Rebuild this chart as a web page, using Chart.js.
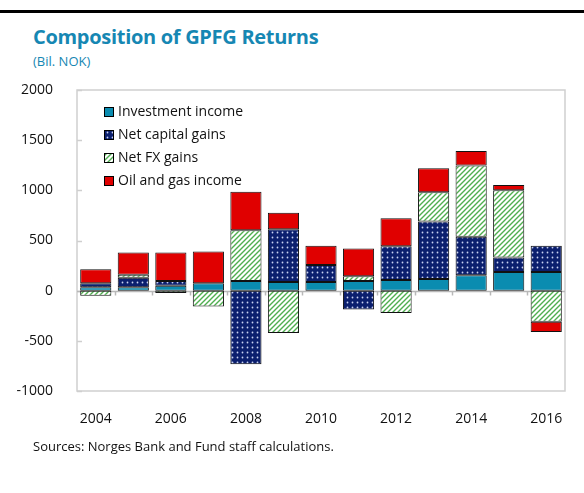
<!DOCTYPE html>
<html>
<head>
<meta charset="utf-8">
<script src="https://cdn.jsdelivr.net/npm/chart.js@4.4.0/dist/chart.umd.min.js"></script>
<style>
  body { margin: 0; background: #fff; }
  #wrap { position: relative; width: 584px; height: 493px; overflow: hidden; }
  #topline { position: absolute; left: 0; top: 10px; width: 584px; height: 3px; background: #000; }
  #title { position: absolute; left: 33px; top: 23px; font: bold 20px "Open Sans", sans-serif; color: #1687b3; letter-spacing: -0.3px; }
  #sub { position: absolute; left: 33px; top: 52px; font: 13px "Open Sans", sans-serif; color: #1687b3; }
  #src { position: absolute; left: 33px; top: 437px; font: 13px "Open Sans", sans-serif; color: #111; }
  canvas { position: absolute; left: 0; top: 0; }
</style>
</head>
<body>
<div id="wrap">
  <div id="topline"></div>
  <div id="title">Composition of GPFG Returns</div>
  <div id="sub">(Bil. NOK)</div>
  <canvas id="c" width="584" height="493"></canvas>
  <div id="src">Sources: Norges Bank and Fund staff calculations.</div>
</div>
<script>
// dados
const years = ['2004','2005','2006','2007','2008','2009','2010','2011','2012','2013','2014','2015','2016'];
const investmentIncome = [33, 33, 50, 73, 97, 87, 87, 97, 107, 117, 153, 187, 187];
const netCapitalGains = [40, 95, 47, 0, -733, 526, 170, -187, 336, 573, 384, 143, 260];
const netFxGains = [-50, 30, -23, -157, 506, -423, 0, 46, -223, 290, 710, 670, -310];
const oilGasIncome = [140, 223, 283, 317, 384, 164, 190, 277, 280, 240, 146, 53, -103];

// padrões de preenchimento
function dotPattern() {
  const t = document.createElement('canvas');
  t.width = 5; t.height = 5;
  const g = t.getContext('2d');
  g.fillStyle = '#0b1f6e';
  g.fillRect(0, 0, 5, 5);
  g.fillStyle = '#c9d2f2';
  g.beginPath();
  g.arc(2.5, 2.5, 0.9, 0, Math.PI * 2);
  g.fill();
  return g.createPattern(t, 'repeat');
}
function stripePattern() {
  const t = document.createElement('canvas');
  t.width = 5; t.height = 5;
  const g = t.getContext('2d');
  g.fillStyle = '#fff';
  g.fillRect(0, 0, 5, 5);
  g.strokeStyle = '#4fae4f';
  g.lineWidth = 1.4;
  g.beginPath();
  g.moveTo(-1, 6); g.lineTo(6, -1);
  g.moveTo(-1, 1); g.lineTo(1, -1);
  g.moveTo(4, 6); g.lineTo(6, 4);
  g.stroke();
  return g.createPattern(t, 'repeat');
}

const frame = {
  id: 'frame',
  beforeDatasetsDraw(chart) {
    const { ctx, chartArea: a, scales: { x, y } } = chart;
    ctx.save();
    ctx.strokeStyle = '#cfcfcf';
    ctx.lineWidth = 1.5;
    ctx.strokeRect(a.left, a.top, a.right - a.left, a.bottom - a.top);
    // marcas do eixo y para dentro
    y.ticks.forEach(t => {
      const py = Math.round(y.getPixelForValue(t.value)) + 0.5;
      ctx.beginPath(); ctx.moveTo(a.left, py); ctx.lineTo(a.left + 5, py); ctx.stroke();
    });
    // linha do zero
    const z = Math.round(y.getPixelForValue(0)) + 0.5;
    ctx.strokeStyle = '#b8b8b8';
    ctx.beginPath(); ctx.moveTo(a.left, z); ctx.lineTo(a.right, z); ctx.stroke();
    const w = (a.right - a.left) / years.length;
    for (let i = 1; i < years.length; i++) {
      const px = Math.round(a.left + i * w) + 0.5;
      ctx.beginPath(); ctx.moveTo(px, z); ctx.lineTo(px, z + 4); ctx.stroke();
    }
    ctx.restore();
  },
  afterDraw(chart) {
    const { ctx } = chart;
    ctx.save();
    ctx.font = '14px "Open Sans", sans-serif';
    ctx.textBaseline = 'middle';
    chart.data.datasets.forEach((ds, i) => {
      const cy = 112 + i * 23;
      ctx.fillStyle = ds.backgroundColor;
      ctx.fillRect(104, cy - 5, 10, 10);
      ctx.strokeStyle = '#000';
      ctx.lineWidth = 1;
      ctx.strokeRect(104.5, cy - 4.5, 9, 9);
      ctx.fillStyle = '#111';
      ctx.fillText(ds.label, 118, cy);
    });
    ctx.restore();
  }
};

const ctx = document.getElementById('c').getContext('2d');
const common = { borderColor: '#111', borderWidth: 1, borderSkipped: false, categoryPercentage: 1, barPercentage: 0.83 };
new Chart(ctx, {
  type: 'bar',
  data: {
    labels: years,
    datasets: [
      { label: 'Investment income', data: investmentIncome, backgroundColor: '#0a8cb0', ...common },
      { label: 'Net capital gains', data: netCapitalGains, backgroundColor: dotPattern(), ...common },
      { label: 'Net FX gains', data: netFxGains, backgroundColor: stripePattern(), ...common },
      { label: 'Oil and gas income', data: oilGasIncome, backgroundColor: '#e00000', ...common }
    ]
  },
  options: {
    responsive: false,
    animation: false,
    layout: { padding: { top: 90, right: 19, bottom: 0, left: 0 } },
    plugins: { legend: { display: false }, tooltip: { enabled: false } },
    scales: {
      x: {
        stacked: true,
        grid: { display: false },
        border: { display: false },
        afterFit: s => { s.height = 102; },
        ticks: {
          autoSkip: false, maxRotation: 0, padding: 12,
          color: '#111', font: { family: 'Open Sans', size: 14 },
          callback: (v, i) => (i % 2 === 0 ? years[i] : '')
        }
      },
      y: {
        stacked: true,
        min: -1000, max: 2000,
        grid: { display: false },
        border: { display: false },
        afterFit: s => { s.width = 77; },
        ticks: { stepSize: 500, padding: 16, color: '#111', font: { family: 'Open Sans', size: 14 }, callback: v => String(v) }
      }
    }
  },
  plugins: [frame]
});
</script>
</body>
</html>
